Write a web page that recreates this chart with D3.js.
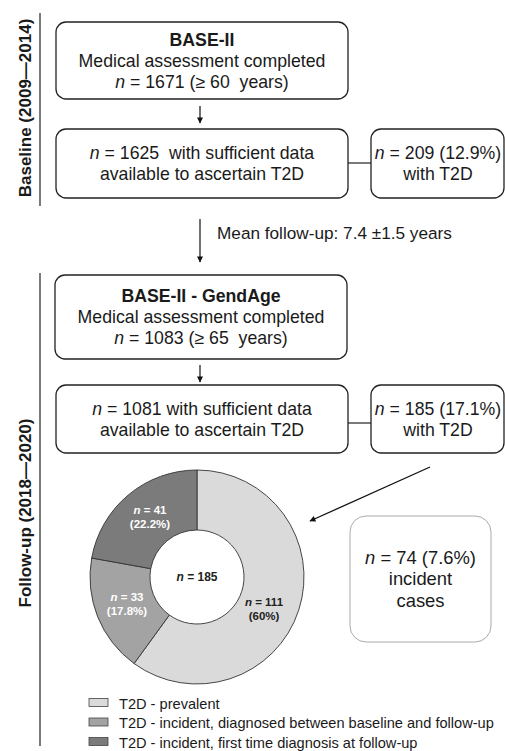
<!DOCTYPE html>
<html>
<head>
<meta charset="utf-8">
<script src="https://cdn.jsdelivr.net/npm/d3@7"></script>
<style>
  body { margin: 0; background: #fff; }
  svg { display: block; font-family: "Liberation Sans", Arial, sans-serif; }
  text { white-space: pre; }
</style>
</head>
<body>
<div id="chart"></div>
<script>
// flow boxes: lines of text, [italic n prefix, rest, bold]
var baselineMain = [['', 'BASE-II', true], ['', 'Medical assessment completed'], ['n', ' = 1671 (≥ 60  years)']]
var baselineData = [['n', ' = 1625  with sufficient data'], ['', 'available to ascertain T2D']]
var baselineT2D = [['n', ' = 209 (12.9%)'], ['', 'with T2D']]
var followMain = [['', 'BASE-II - GendAge', true], ['', 'Medical assessment completed'], ['n', ' = 1083 (≥ 65  years)']]
var followData = [['n', ' = 1081 with sufficient data'], ['', 'available to ascertain T2D']]
var followT2D = [['n', ' = 185 (17.1%)'], ['', 'with T2D']]
var incidentBox = [['n', ' = 74 (7.6%)'], ['', 'incident'], ['', 'cases']]
var followUpText = 'Mean follow-up: 7.4 ±1.5 years'
var phaseLabels = ['Baseline (2009—2014)', 'Follow-up (2018—2020)']

// donut
var segNames = ['T2D - prevalent', 'T2D - incident, diagnosed between baseline and follow-up', 'T2D - incident, first time diagnosis at follow-up']
var segValues = [111, 33, 41]
var segPct = ['60%', '17.8%', '22.2%']
var segColors = ['#dadada', '#a3a3a3', '#7b7b7b']
var totalN = 185

var width = 505
var height = 751

var svg = d3.select('#chart').append('svg')
    .attr('width', width)
    .attr('height', height)

var defs = svg.append('defs')
defs.append('marker')
    .attr('id', 'head')
    .attr('viewBox', '0 0 10 10')
    .attr('refX', 9).attr('refY', 5)
    .attr('markerWidth', 7).attr('markerHeight', 6)
    .attr('markerUnits', 'userSpaceOnUse')
    .attr('orient', 'auto')
  .append('path')
    .attr('d', 'M0,0L10,5L0,10Z')
    .attr('fill', '#111')

function box (x, y, w, h, lines, opts) {
  opts = opts || {}
  var g = svg.append('g')
  g.append('rect')
      .attr('x', x).attr('y', y)
      .attr('width', w).attr('height', h)
      .attr('rx', opts.r || 10)
      .attr('fill', 'white')
      .attr('stroke', opts.stroke || '#222')
      .attr('stroke-width', opts.sw || 1.3)
  var fs = opts.fs || 17.7
  var lh = opts.lh || 21
  var cx = opts.cx || (x + w / 2)
  var y0 = y + h / 2 - (lines.length - 1) * lh / 2 + fs * 0.35
  lines.forEach(function (l, i) {
    var t = g.append('text')
        .attr('x', cx)
        .attr('y', y0 + i * lh)
        .attr('text-anchor', 'middle')
        .attr('font-size', fs)
        .attr('fill', '#1a1a1a')
        .attr('font-weight', l[2] ? 'bold' : 'normal')
    if (l[0]) t.append('tspan').attr('font-style', 'italic').text(l[0])
    t.append('tspan').text(l[1])
  })
  return g
}

function arrow (x1, y1, x2, y2, sw) {
  svg.append('line')
      .attr('x1', x1).attr('y1', y1)
      .attr('x2', x2).attr('y2', y2)
      .attr('stroke', '#111')
      .attr('stroke-width', sw || 1.2)
      .attr('marker-end', 'url(#head)')
}

function line (x1, y1, x2, y2) {
  svg.append('line')
      .attr('x1', x1).attr('y1', y1)
      .attr('x2', x2).attr('y2', y2)
      .attr('stroke', '#222')
      .attr('stroke-width', 1.2)
}

// phase rules + labels
line(40, 13, 40, 206)
line(40, 273, 40, 746)
svg.append('text')
    .attr('transform', 'translate(31,' + 108 + ') rotate(-90)')
    .attr('text-anchor', 'middle')
    .attr('font-size', 17).attr('font-weight', 'bold')
    .attr('fill', '#1a1a1a')
    .text(phaseLabels[0])
svg.append('text')
    .attr('transform', 'translate(31,' + 513 + ') rotate(-90)')
    .attr('text-anchor', 'middle')
    .attr('font-size', 17).attr('font-weight', 'bold')
    .attr('fill', '#1a1a1a')
    .text(phaseLabels[1])

// baseline
box(56, 22, 292, 77, baselineMain)
arrow(200, 106, 200, 123)
box(56, 129, 292, 69, baselineData)
line(348, 163, 371, 163)
box(371, 129, 133, 69, baselineT2D, {cx: 438})

// follow-up
arrow(200, 219, 200, 262)
svg.append('text')
    .attr('x', 217).attr('y', 239)
    .attr('font-size', 17.2)
    .attr('fill', '#1a1a1a')
    .text(followUpText)

box(55, 275, 292, 84, followMain)
arrow(200, 365, 200, 382)
box(56, 385, 292, 68, followData)
line(348, 423, 371, 423)
box(371, 385, 133, 68, followT2D, {cx: 438})

arrow(430, 467, 310, 521, 1.3)
box(350, 516, 141, 126, incidentBox, {stroke: '#aaa', r: 16, fs: 18.4, lh: 21.5, sw: 1})

// donut
var cx = 197, cy = 577
var rOuter = 107, rInner = 47
var color = d3.scaleOrdinal().domain(segNames).range(segColors)
var pie = d3.pie().sort(null).value(function (d, i) { return segValues[i] })
var arcs = pie(segNames)
var arc = d3.arc().innerRadius(rInner).outerRadius(rOuter)
var donut = svg.append('g').attr('transform', 'translate(' + cx + ',' + cy + ')')
donut.selectAll('path')
    .data(arcs)
  .enter().append('path')
    .attr('d', arc)
    .attr('fill', function (d) { return color(d.data) })
    .attr('stroke', '#333')
    .attr('stroke-width', 0.9)

var labelPos = [[67, 32], [-70, 27], [-47, -60]]
donut.selectAll('.seglab')
    .data(arcs)
  .enter().append('text')
    .attr('class', 'seglab')
    .attr('text-anchor', 'middle')
    .attr('font-size', 11.5)
    .attr('font-weight', 'bold')
    .attr('fill', function (d, i) { return i == 0 ? '#222' : '#fff' })
    .attr('transform', function (d, i) { return 'translate(' + labelPos[i] + ')' })
    .each(function (d, i) {
      var t = d3.select(this)
      var a = t.append('tspan').attr('x', 0).attr('y', -3)
      a.append('tspan').attr('font-style', 'italic').text('n')
      a.append('tspan').text(' = ' + segValues[i])
      t.append('tspan').attr('x', 0).attr('y', 11).text('(' + segPct[i] + ')')
    })

var ct = donut.append('text')
    .attr('text-anchor', 'middle')
    .attr('y', 4)
    .attr('font-size', 12)
    .attr('font-weight', 'bold')
    .attr('fill', '#222')
ct.append('tspan').attr('font-style', 'italic').text('n')
ct.append('tspan').text(' = ' + totalN)

// legend
var legend = svg.append('g')
var lg = legend.selectAll('g')
    .data(segNames)
  .enter().append('g')
    .attr('transform', function (d, i) { return 'translate(89,' + (703 + i * 19.5) + ')' })
lg.append('rect')
    .attr('x', 0).attr('y', -4.5)
    .attr('width', 19).attr('height', 8)
    .attr('fill', function (d) { return color(d) })
    .attr('stroke', '#444')
    .attr('stroke-width', 0.8)
lg.append('text')
    .attr('x', 30).attr('y', 5.5)
    .attr('font-size', 14.6)
    .attr('fill', '#1a1a1a')
    .text(function (d) { return d })
</script>
</body>
</html>
